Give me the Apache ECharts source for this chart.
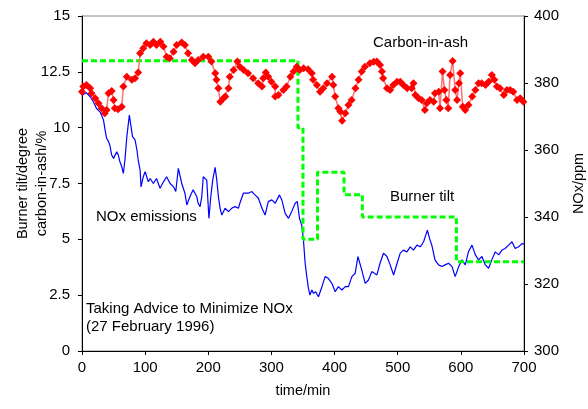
<!DOCTYPE html>
<html>
<head>
<meta charset="utf-8">
<script src="https://cdn.jsdelivr.net/npm/echarts@6/dist/echarts.min.js"></script>
<style>
  html, body { margin: 0; padding: 0; background: #fff; }
</style>
</head>
<body>
<div id="chart" style="width:588px;height:409px;"></div>
<script>
// time (min), value pairs
var carbonInAsh = [
  [0, 11.61], [2, 11.84], [7, 11.91], [13, 11.76], [15, 11.54], [21, 11.32], [26, 11.09],
  [31, 10.87], [36, 10.64], [39, 10.79], [42, 11.54], [47, 11.64], [50, 11.24], [52, 10.87],
  [57, 10.82], [63, 10.94], [65.5, 11.84], [71, 12.28], [79, 12.14], [84, 12.21], [89, 12.47],
  [92, 13.33], [97, 13.56], [102, 13.78], [108, 13.7], [113, 13.85], [118, 13.7], [124, 13.85],
  [129, 13.63], [134, 13.18], [139, 13.11], [145, 13.4], [150, 13.7], [158, 13.81], [163, 13.7],
  [168, 13.33], [174, 13.03], [179, 12.88], [184, 13.03], [192, 13.18], [200, 13.18], [205, 12.96],
  [211, 12.44], [213, 12.14], [216, 11.76], [219, 11.16], [224, 11.32], [227, 11.39], [232, 11.76],
  [234, 12.28], [240, 12.58], [246, 12.96], [250, 12.73], [256, 12.58], [263, 12.44], [271, 12.21],
  [279, 11.99], [285, 11.84], [287, 12.21], [291, 12.47], [295, 12.28], [300, 12.06], [306, 11.84],
  [306, 11.39], [311, 11.46], [319, 11.69], [324, 11.84], [330, 12.28], [335, 12.51], [340, 12.73],
  [345, 12.58], [351, 12.66], [358, 12.62], [364, 12.44], [366, 12.14], [372, 11.91], [377, 11.61],
  [382, 11.76], [388, 11.99], [396, 12.28], [398, 11.91], [401, 11.39], [406, 10.87], [409, 10.72],
  [412, 10.31], [417, 10.64], [422, 11.02], [427, 11.24], [433, 11.76], [438, 12.14], [443, 12.51],
  [448, 12.73], [456, 12.88], [462, 12.95], [467, 12.96], [472, 12.81], [475, 12.51], [477, 12.21],
  [483, 11.76], [488, 11.69], [493, 11.91], [499, 12.06], [504, 12.06], [509, 11.91], [515, 11.76],
  [522, 11.76], [525, 11.99], [528, 11.46], [533, 11.32], [538, 11.24], [543, 10.79], [546, 11.09],
  [551, 11.24], [557, 11.16], [559, 11.54], [565, 11.61], [567, 10.87], [571, 12.51], [574, 11.69],
  [577, 11.24], [580, 10.87], [583, 12.36], [587, 12.99], [591, 11.69], [594, 11.24], [597, 11.99],
  [599, 12.44], [603, 10.94], [607, 10.79], [612, 11.02], [618, 11.39], [623, 11.69], [628, 11.99],
  [633, 11.99], [639, 11.91], [644, 12.06], [649, 12.36], [653, 12.14], [657, 11.84], [662, 11.76],
  [668, 11.46], [673, 11.69], [678, 11.69], [683, 11.61], [689, 11.24], [694, 11.32], [699, 11.16]
];

var burnerTilt = [
  [0, 13], [342, 13], [342, 10], [350, 10], [350, 5], [373, 5], [373, 8], [415, 8],
  [415, 7], [444, 7], [444, 6], [593, 6], [593, 4], [700, 4]
];

var noxEmissions = [
  [0, 376.4], [7, 377.1], [13, 375.9], [18, 374.4], [23, 372.4], [26, 372.9], [28.5, 371.4],
  [31, 370.4], [34, 369.0], [36.5, 366.0], [39, 363.5], [42, 362.5], [44, 361.5], [47, 358.5],
  [50, 357.5], [52, 358.0], [55, 359.5], [57.5, 358.5], [60, 356.5], [63, 355.0], [65.5, 353.0],
  [68, 357.0], [71, 364.0], [75, 370.4], [77, 369.9], [80, 364.0], [84, 363.0], [87, 360.0],
  [89, 357.0], [92, 354.0], [93.5, 349.0], [97, 352.0], [100, 353.5], [102.5, 352.0], [105, 350.5],
  [108, 351.5], [113, 350.0], [118, 351.5], [123.6, 348.6], [129, 350.5], [134, 352.0],
  [137, 352.5], [139.5, 350.0], [145, 349.0], [148.5, 347.6], [152.6, 354.5], [155, 352.5],
  [158, 350.0], [163, 347.1], [166, 343.6], [171, 346.1], [176, 348.1], [181.7, 346.1],
  [184, 344.1], [187, 343.1], [189.7, 346.1], [192, 352.0], [195, 351.5], [197.6, 351.0],
  [201, 339.6], [204, 346.1], [207, 351.0], [210.8, 354.8], [213.5, 351.0], [216, 346.1],
  [218.7, 342.6], [221.4, 340.6], [224, 341.6], [226.6, 342.6], [232, 341.6], [237, 342.6],
  [242.5, 343.1], [247.7, 342.6], [250, 344.1], [255.6, 347.1], [258, 347.6], [263.5, 347.1],
  [269, 347.6], [274, 346.6], [279.4, 345.6], [285, 342.6], [290, 340.6], [295, 344.6],
  [300.6, 345.1], [306, 344.1], [312.7, 346.6], [316.5, 345.1], [321.7, 341.1], [327, 339.6],
  [332, 341.6], [337.6, 344.1], [341, 344.6], [344.4, 339.6], [348, 337.6], [350.7, 333.1],
  [353.4, 326.2], [356, 322.2], [358.6, 318.7], [361, 316.7], [364, 318.2], [366.6, 317.2],
  [370, 317.7], [374.5, 316.2], [380, 319.2], [385, 322.2], [390, 321.7], [395.7, 320.2],
  [401, 317.7], [406, 319.2], [411.6, 318.2], [417, 319.2], [422, 319.2], [427.4, 322.2],
  [432.6, 323.2], [437, 328.2], [439.5, 328.7], [443, 324.2], [448.5, 320.2], [453.7, 321.2],
  [459, 323.7], [461.6, 324.2], [467, 322.7], [472, 326.2], [477.5, 329.2], [483, 328.2],
  [488, 325.7], [493.5, 322.7], [499, 326.2], [504, 329.2], [509, 330.1], [514.6, 329.6],
  [519.8, 331.1], [525, 330.1], [530.4, 331.6], [535.7, 331.1], [541, 332.6], [543.6, 332.1],
  [547, 336.1], [550.4, 333.6], [554, 331.6], [559, 327.2], [564.6, 325.7], [570, 325.2],
  [575, 325.7], [580.5, 326.2], [586, 325.2], [591, 322.2], [596.6, 325.2], [601.7, 327.2],
  [607, 325.7], [612, 329.6], [617.6, 331.6], [623, 328.7], [628, 327.2], [633.4, 328.2],
  [638.7, 325.7], [644, 324.7], [649, 327.2], [654.5, 329.6], [660, 328.7], [665, 330.1],
  [670, 330.6], [675.6, 331.6], [681, 332.6], [686, 330.6], [691.4, 331.1], [697, 332.1],
  [700, 331.9]
];

var font = 'Liberation Sans, Arial, sans-serif';
var myChart = echarts.init(document.getElementById('chart'));
var option = {
  backgroundColor: '#ffffff',
  animation: false,
  textStyle: { fontFamily: font },
  grid: {
    left: 82, right: 64, top: 16, bottom: 58,
    outerBoundsMode: 'none',
    show: true, borderColor: '#888', borderWidth: 1
  },
  xAxis: {
    type: 'value', min: 0, max: 700, interval: 100,
    name: 'time/min', nameLocation: 'middle', nameGap: 32,
    nameTextStyle: { color: '#000', fontSize: 14.5, fontFamily: font },
    axisLine: { lineStyle: { color: '#000' } },
    axisTick: { length: 4, lineStyle: { color: '#000' } },
    axisLabel: { color: '#000', fontSize: 15, margin: 9 },
    splitLine: { show: false }
  },
  yAxis: [
    {
      type: 'value', min: 0, max: 15, interval: 2.5, position: 'left',
      name: 'Burner tilt/degree\ncarbon-in-ash/%', nameLocation: 'middle', nameGap: 31,
      nameRotate: 90, nameMoveOverlap: false,
      nameTextStyle: { color: '#000', fontSize: 14.5, lineHeight: 19, fontFamily: font },
      axisLine: { show: true, lineStyle: { color: '#000' } },
      axisTick: { show: true, length: 4, lineStyle: { color: '#000' } },
      axisLabel: { color: '#000', fontSize: 15, margin: 12 },
      splitLine: { show: false }
    },
    {
      type: 'value', min: 300, max: 400, interval: 20, position: 'right',
      name: 'NOx/ppm', nameLocation: 'middle', nameGap: 47, nameRotate: 90,
      nameTextStyle: { color: '#000', fontSize: 14.5, fontFamily: font },
      axisLine: { show: true, lineStyle: { color: '#000' } },
      axisTick: { show: true, length: 4, lineStyle: { color: '#000' } },
      axisLabel: { color: '#000', fontSize: 15, margin: 10 },
      splitLine: { show: false }
    }
  ],
  series: [
    {
      name: 'NOx emissions', type: 'line', yAxisIndex: 1, data: noxEmissions,
      showSymbol: false, lineStyle: { color: '#0000ff', width: 1.2 }, z: 2
    },
    {
      name: 'Burner tilt', type: 'line', yAxisIndex: 0, data: burnerTilt,
      showSymbol: false, lineStyle: { color: '#00ff00', width: 3, type: [6, 3] }, z: 3
    },
    {
      name: 'Carbon-in-ash', type: 'line', yAxisIndex: 0, data: carbonInAsh,
      symbol: 'diamond', symbolSize: 8,
      itemStyle: { color: '#ff0000' },
      lineStyle: { color: '#ff7070', width: 1.5 }, z: 4
    }
  ],
  graphic: [
    { type: 'text', left: 373, top: 35, style: { text: 'Carbon-in-ash', font: '15px ' + font, fill: '#000' } },
    { type: 'text', left: 390, top: 189, style: { text: 'Burner tilt', font: '15px ' + font, fill: '#000' } },
    { type: 'text', left: 96, top: 209, style: { text: 'NOx emissions', font: '15px ' + font, fill: '#000' } },
    { type: 'text', left: 86, top: 301, style: { text: 'Taking Advice to Minimize NOx', font: '15px ' + font, fill: '#000' } },
    { type: 'text', left: 86, top: 319, style: { text: '(27 February 1996)', font: '15px ' + font, fill: '#000' } }
  ]
};
myChart.setOption(option, true);
</script>
</body>
</html>
